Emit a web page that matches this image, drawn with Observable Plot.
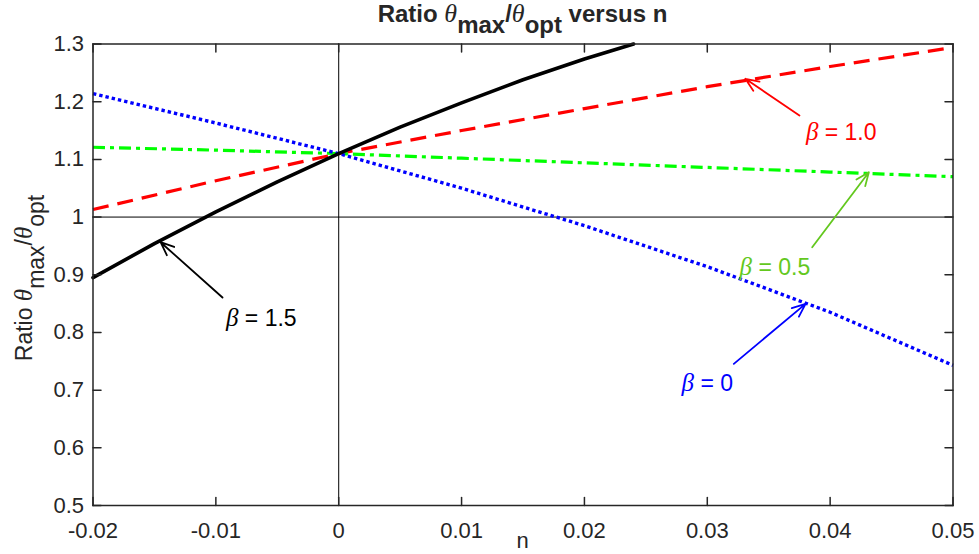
<!DOCTYPE html>
<html><head><meta charset="utf-8">
<script src="https://cdn.jsdelivr.net/npm/d3@7"></script>
<script src="https://cdn.jsdelivr.net/npm/@observablehq/plot@0.6"></script>
<style>
body{margin:0;background:#fff}
#chart svg{font-family:"Liberation Sans",Arial,Helvetica,sans-serif;background:#fff}
</style>
</head><body><div id="chart"></div>
<script>
// ---- data ----
const nGrid15 = [-0.02,-0.015,-0.01,-0.005,0,0.005,0.01,0.015,0.02,0.024];
const ratioBeta15 = [0.895,0.954,1.009,1.061,1.110,1.156,1.198,1.238,1.274,1.300];
const nGrid = [-0.02,-0.01,0,0.01,0.02,0.03,0.04,0.05];
const ratioBeta10 = [1.013,1.063,1.110,1.150,1.188,1.226,1.261,1.294];
const ratioBeta05 = [1.121,1.116,1.110,1.102,1.094,1.086,1.078,1.070];
const ratioBeta0  = [1.214,1.163,1.110,1.050,0.985,0.914,0.835,0.743];

const xTicks = [-0.02,-0.01,0,0.01,0.02,0.03,0.04,0.05];
const xTickLabels = ["-0.02","-0.01","0","0.01","0.02","0.03","0.04","0.05"];
const yTicks = [0.5,0.6,0.7,0.8,0.9,1.0,1.1,1.2,1.3];
const yTickLabels = ["0.5","0.6","0.7","0.8","0.9","1","1.1","1.2","1.3"];

const labelText = ["β = 1.5","β = 1.0","β = 0.5","β = 0"];
const labelN = [-0.0063,0.0409,0.0355,0.0300];
const labelR = [0.824,1.1466,0.9125,0.7115];
const arrowN1 = [-0.00946,0.0375,0.03854,0.03216];
const arrowR1 = [0.8605,1.176,0.9477,0.7456];
const arrowN2 = [-0.0145,0.0331,0.04315,0.038];
const arrowR2 = [0.9564,1.2397,1.0778,0.8496];
const labelColors = ["#000000","#FF0000","#63C81E","#0000FF"];

// ---- build ----
const s15 = nGrid15.map((n,i)=>({n, r: ratioBeta15[i]}));
const s10 = nGrid.map((n,i)=>({n, r: ratioBeta10[i]}));
const s05 = nGrid.map((n,i)=>({n, r: ratioBeta05[i]}));
const s0  = nGrid.map((n,i)=>({n, r: ratioBeta0[i]}));
const idx = d3.range(labelText.length);
const axisColor = "#262626";
const tickShape = {draw(ctx, l){ ctx.moveTo(0,0); ctx.lineTo(0,-l); }};
const TL = 8;

const chart = Plot.plot({
  width: 979, height: 554,
  marginLeft: 92.5, marginRight: 26.5, marginTop: 43.5, marginBottom: 49,
  x: {domain: [-0.02, 0.05], label: null},
  y: {domain: [0.5, 1.3], label: null},
  color: {type: "identity"},
  style: {fontFamily: '"Liberation Sans",Arial,sans-serif', background: "#fff", overflow: "visible"},
  marks: [
    Plot.ruleX([0], {stroke: "#000", strokeWidth: 1}),
    Plot.ruleY([1], {stroke: "#000", strokeWidth: 1}),
    Plot.line(s10, {x: "n", y: "r", stroke: "#FF0000", strokeWidth: 3.2, strokeDasharray: "16,9", strokeLinecap: "butt"}),
    Plot.line(s05, {x: "n", y: "r", stroke: "#00FF00", strokeWidth: 3.2, strokeDasharray: "12,5,4,5", strokeLinecap: "butt"}),
    Plot.line(s0,  {x: "n", y: "r", stroke: "#0000FF", strokeWidth: 3.4, strokeDasharray: "3.4,3", strokeLinecap: "butt"}),
    Plot.line(s15, {x: "n", y: "r", stroke: "#000000", strokeWidth: 3.6}),
    Plot.arrow(idx, {x1: i=>arrowN1[i], y1: i=>arrowR1[i], x2: i=>arrowN2[i], y2: i=>arrowR2[i],
      stroke: i=>labelColors[i], strokeWidth: 1.8, headLength: 12, headAngle: 45}),
    Plot.text(idx, {x: i=>labelN[i], y: i=>labelR[i], text: i=>labelText[i], fill: i=>labelColors[i],
      fontSize: 23, textAnchor: "middle", lineAnchor: "middle"}),
    Plot.frame({stroke: axisColor, strokeWidth: 1.5}),
    Plot.vector(xTicks, {x: d=>d, y: 0.5, length: TL, rotate: 0, anchor: "start", shape: tickShape, stroke: axisColor, strokeWidth: 1.5}),
    Plot.vector(xTicks, {x: d=>d, y: 1.3, length: TL, rotate: 180, anchor: "start", shape: tickShape, stroke: axisColor, strokeWidth: 1.5}),
    Plot.vector(yTicks, {x: -0.02, y: d=>d, length: TL, rotate: 90, anchor: "start", shape: tickShape, stroke: axisColor, strokeWidth: 1.5}),
    Plot.vector(yTicks, {x: 0.05, y: d=>d, length: TL, rotate: 270, anchor: "start", shape: tickShape, stroke: axisColor, strokeWidth: 1.5}),
    Plot.axisX(xTicks, {tickSize: 0, tickPadding: 17, fontSize: 22, fill: axisColor, label: null,
      tickFormat: d => xTickLabels[xTicks.indexOf(d)]}),
    Plot.axisY(yTicks, {tickSize: 0, tickPadding: 9, fontSize: 22, fill: axisColor, label: null,
      tickFormat: d => yTickLabels[yTicks.indexOf(d)]})
  ]
});
document.getElementById("chart").appendChild(chart);

// beta glyph italic serif
const svg = d3.select(chart);
const serifIt = '"Liberation Serif","Times New Roman",serif';
svg.selectAll('g[aria-label="text"] text').each(function(){
  const t = d3.select(this);
  const s = t.text();
  if (s.startsWith("β")) {
    t.text(null);
    t.append("tspan").attr("font-family", serifIt).attr("font-style","italic").attr("font-size", 25).text("β");
    t.append("tspan").text(s.slice(1));
  }
});

// title & axis labels
function richLabel(g, parts, size, weight, subShift){
  const txt = g.append("text").attr("font-size", size).attr("font-weight", weight).attr("fill", axisColor).attr("text-anchor","middle");
  parts.forEach(p => {
    const ts = txt.append("tspan").text(p.t);
    if (p.it) ts.attr("font-family", serifIt).attr("font-style","italic").attr("font-weight","normal").attr("font-size", size + 2);
    if (p.sub) ts.attr("dy", subShift); else if (p.up) ts.attr("dy", -subShift);
  });
  return txt;
}
const titleG = svg.append("g").attr("transform", "translate(522.5,22)");
richLabel(titleG, [{t:"Ratio "},{t:"θ", it:true},{t:"max", sub:true},{t:"/", up:true},{t:"θ", it:true},{t:"opt", sub:true},{t:" versus n", up:true}], 24, "bold", 11);
const yG = svg.append("g").attr("transform", "translate(32,278) rotate(-90)");
richLabel(yG, [{t:"Ratio "},{t:"θ", it:true},{t:"max", sub:true},{t:"/", up:true},{t:"θ", it:true},{t:"opt", sub:true}], 23, "normal", 12);
svg.append("text").attr("x", 522.5).attr("y", 548).attr("text-anchor","middle").attr("font-size", 22).attr("fill", axisColor).text("n");
</script>
</body></html>
